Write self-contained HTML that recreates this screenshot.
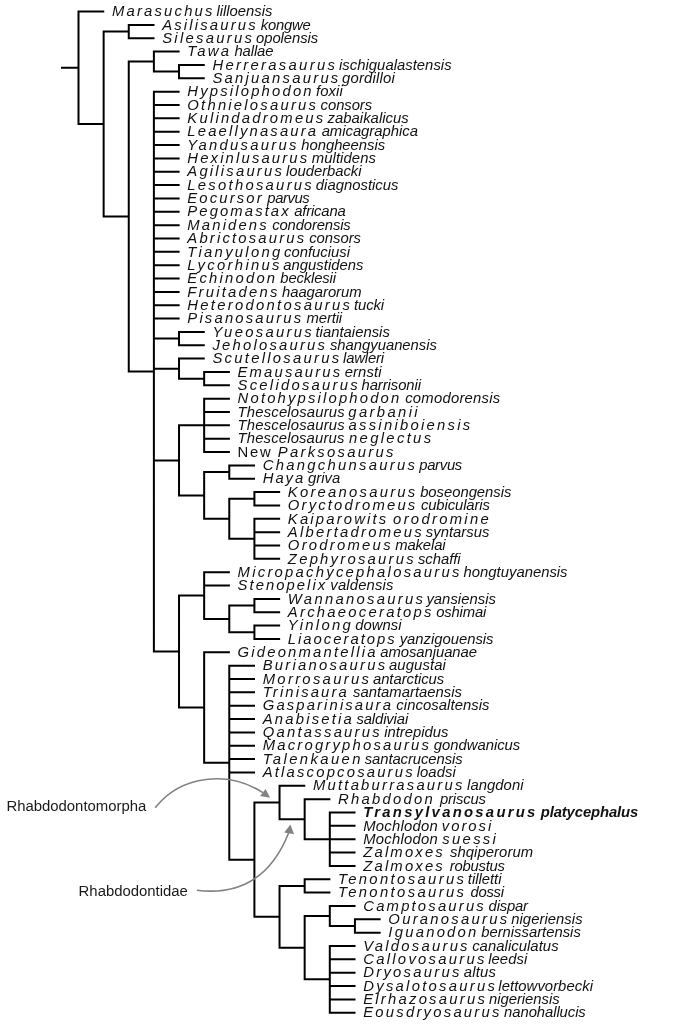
<!DOCTYPE html><html><head><meta charset="utf-8"><style>
html,body{margin:0;padding:0;background:#fff;}
svg{display:block;filter:grayscale(1);}
text{font-family:"Liberation Sans",sans-serif;font-size:14.3px;fill:#111;}
.i{font-style:italic;}
.b{font-weight:bold;}
.lab{font-size:14.9px;fill:#1a1a1a;}
</style></head><body>
<svg width="699" height="1024" viewBox="0 0 699 1024">
<path d="M78.50 11.55H104.23M128.76 24.90H154.49M128.76 38.25H154.49M128.76 23.90V39.25M103.63 31.57H128.76M153.89 51.60H179.62M179.02 64.95H204.75M179.02 78.30H204.75M179.02 63.95V79.30M153.89 71.62H179.02M153.89 50.60V72.62M128.76 61.61H153.89M153.89 91.64H179.62M153.89 104.99H179.62M153.89 118.34H179.62M153.89 131.69H179.62M153.89 145.04H179.62M153.89 158.39H179.62M153.89 171.74H179.62M153.89 185.09H179.62M153.89 198.44H179.62M153.89 211.79H179.62M153.89 225.13H179.62M153.89 238.48H179.62M153.89 251.83H179.62M153.89 265.18H179.62M153.89 278.53H179.62M153.89 291.88H179.62M153.89 305.23H179.62M153.89 318.58H179.62M179.02 331.93H204.75M179.02 345.28H204.75M179.02 330.93V346.28M153.89 338.60H179.02M179.02 358.62H204.75M204.15 371.97H229.88M204.15 385.32H229.88M204.15 370.97V386.32M179.02 378.65H204.15M179.02 357.62V379.65M153.89 368.64H179.02M204.15 398.67H229.88M204.15 412.02H229.88M204.15 425.37H229.88M204.15 438.72H229.88M204.15 452.07H229.88M204.15 397.67V453.07M179.02 425.37H204.15M229.28 465.42H255.01M229.28 478.77H255.01M229.28 464.42V479.77M204.15 472.09H229.28M254.41 492.11H280.14M254.41 505.46H280.14M254.41 491.11V506.46M229.28 498.79H254.41M254.41 518.81H280.14M254.41 532.16H280.14M254.41 545.51H280.14M254.41 558.86H280.14M254.41 517.81V559.86M229.28 538.84H254.41M229.28 497.79V539.84M204.15 518.81H229.28M204.15 471.09V519.81M179.02 495.45H204.15M179.02 424.37V496.45M153.89 460.41H179.02M204.15 572.21H229.88M204.15 585.56H229.88M254.41 598.91H280.14M254.41 612.25H280.14M254.41 597.91V613.25M229.28 605.58H254.41M254.41 625.60H280.14M254.41 638.95H280.14M254.41 624.60V639.95M229.28 632.28H254.41M229.28 604.58V633.28M204.15 618.93H229.28M204.15 571.21V619.93M179.02 595.57H204.15M204.15 652.30H229.88M229.28 665.65H255.01M229.28 679.00H255.01M229.28 692.35H255.01M229.28 705.70H255.01M229.28 719.05H255.01M229.28 732.40H255.01M229.28 745.75H255.01M229.28 759.09H255.01M229.28 772.44H255.01M279.54 785.79H305.27M304.67 799.14H330.40M329.80 812.49H355.53M329.80 825.84H355.53M329.80 839.19H355.53M329.80 852.54H355.53M329.80 865.89H355.53M329.80 811.49V866.89M304.67 839.19H329.80M304.67 798.14V840.19M279.54 819.16H304.67M279.54 784.79V820.16M254.41 802.48H279.54M304.67 879.24H330.40M304.67 892.58H330.40M304.67 878.24V893.58M279.54 885.91H304.67M329.80 905.93H355.53M354.93 919.28H380.66M354.93 932.63H380.66M354.93 918.28V933.63M329.80 925.96H354.93M329.80 904.93V926.96M304.67 915.94H329.80M329.80 945.98H355.53M329.80 959.33H355.53M329.80 972.68H355.53M329.80 986.03H355.53M329.80 999.38H355.53M329.80 1012.73H355.53M329.80 944.98V1013.73M304.67 979.35H329.80M304.67 914.94V980.35M279.54 947.65H304.67M279.54 884.91V948.65M254.41 916.78H279.54M254.41 801.48V917.78M229.28 859.63H254.41M229.28 664.65V860.63M204.15 762.64H229.28M204.15 651.30V763.64M179.02 707.47H204.15M179.02 594.57V708.47M153.89 651.52H179.02M153.89 90.64V652.52M128.76 371.58H153.89M128.76 60.61V372.58M103.63 216.60H128.76M103.63 30.57V217.60M78.50 124.08H103.63M78.50 10.55V125.08M61.00 67.82H78.50" stroke="#000" stroke-width="2.0" fill="none"/>
<text transform="translate(111.93 16.25) scale(1.04 1)"><tspan class="i" letter-spacing="2.09">Marasuchus</tspan><tspan class="i" letter-spacing="-0.02" dx="-2.15"> lilloensis</tspan></text>
<text transform="translate(162.19 29.6) scale(1.04 1)"><tspan class="i" letter-spacing="2.08">Asilisaurus</tspan><tspan class="i" letter-spacing="-0.21" dx="-0.98"> kongwe</tspan></text>
<text transform="translate(162.19 42.95) scale(1.04 1)"><tspan class="i" letter-spacing="2.17">Silesaurus</tspan><tspan class="i" letter-spacing="-0.08" dx="-2.04"> opolensis</tspan></text>
<text transform="translate(187.32 56.3) scale(1.04 1)"><tspan class="i" letter-spacing="2.15">Tawa</tspan><tspan class="i" letter-spacing="-0.12" dx="-0.77"> hallae</tspan></text>
<text transform="translate(212.45 69.65) scale(1.04 1)"><tspan class="i" letter-spacing="2.2">Herrerasaurus</tspan><tspan class="i" letter-spacing="0.01" dx="-2.16"> ischigualastensis</tspan></text>
<text transform="translate(212.45 83) scale(1.04 1)"><tspan class="i" letter-spacing="2.14">Sanjuansaurus</tspan><tspan class="i" letter-spacing="0.18" dx="-2.68"> gordilloi</tspan></text>
<text transform="translate(187.32 96.34) scale(1.04 1)"><tspan class="i" letter-spacing="2.08">Hypsilophodon</tspan><tspan class="i" letter-spacing="0.07" dx="-1.85"> foxii</tspan></text>
<text transform="translate(187.32 109.69) scale(1.04 1)"><tspan class="i" letter-spacing="2.12">Othnielosaurus</tspan><tspan class="i" letter-spacing="-0.08" dx="-1.51"> consors</tspan></text>
<text transform="translate(187.32 123.04) scale(1.04 1)"><tspan class="i" letter-spacing="2.11">Kulindadromeus</tspan><tspan class="i" letter-spacing="0.02" dx="-1.98"> zabaikalicus</tspan></text>
<text transform="translate(187.32 136.39) scale(1.04 1)"><tspan class="i" letter-spacing="2.07">Leaellynasaura</tspan><tspan class="i" letter-spacing="-0.03" dx="-0.7"> amicagraphica</tspan></text>
<text transform="translate(187.32 149.74) scale(1.04 1)"><tspan class="i" letter-spacing="2.17">Yandusaurus</tspan><tspan class="i" letter-spacing="-0.03" dx="-1.46"> hongheensis</tspan></text>
<text transform="translate(187.32 163.09) scale(1.04 1)"><tspan class="i" letter-spacing="2.06">Hexinlusaurus</tspan><tspan class="i" letter-spacing="0.07" dx="-1.74"> multidens</tspan></text>
<text transform="translate(187.32 176.44) scale(1.04 1)"><tspan class="i" letter-spacing="2.1">Agilisaurus</tspan><tspan class="i" letter-spacing="-0.04" dx="-2.06"> louderbacki</tspan></text>
<text transform="translate(187.32 189.79) scale(1.04 1)"><tspan class="i" letter-spacing="2.16">Lesothosaurus</tspan><tspan class="i" letter-spacing="-0" dx="-2.22"> diagnosticus</tspan></text>
<text transform="translate(187.32 203.14) scale(1.04 1)"><tspan class="i" letter-spacing="2.04">Eocursor</tspan><tspan class="i" letter-spacing="-0.42" dx="-0.08"> parvus</tspan></text>
<text transform="translate(187.32 216.49) scale(1.04 1)"><tspan class="i" letter-spacing="2">Pegomastax</tspan><tspan class="i" letter-spacing="-0.17" dx="-0.52"> africana</tspan></text>
<text transform="translate(187.32 229.83) scale(1.04 1)"><tspan class="i" letter-spacing="2.05">Manidens</tspan><tspan class="i" letter-spacing="-0.15" dx="-0.58"> condorensis</tspan></text>
<text transform="translate(187.32 243.18) scale(1.04 1)"><tspan class="i" letter-spacing="2.08">Abrictosaurus</tspan><tspan class="i" letter-spacing="-0.05" dx="-1.09"> consors</tspan></text>
<text transform="translate(187.32 256.53) scale(1.04 1)"><tspan class="i" letter-spacing="2.17">Tianyulong</tspan><tspan class="i" letter-spacing="0" dx="-2.52"> confuciusi</tspan></text>
<text transform="translate(187.32 269.88) scale(1.04 1)"><tspan class="i" letter-spacing="2.2">Lycorhinus</tspan><tspan class="i" letter-spacing="0.01" dx="-2.56"> angustidens</tspan></text>
<text transform="translate(187.32 283.23) scale(1.04 1)"><tspan class="i" letter-spacing="2.11">Echinodon</tspan><tspan class="i" letter-spacing="-0.16" dx="-0.93"> becklesii</tspan></text>
<text transform="translate(187.32 296.58) scale(1.04 1)"><tspan class="i" letter-spacing="2.13">Fruitadens</tspan><tspan class="i" letter-spacing="-0.07" dx="-1.63"> haagarorum</tspan></text>
<text transform="translate(187.32 309.93) scale(1.04 1)"><tspan class="i" letter-spacing="2.17">Heterodontosaurus</tspan><tspan class="i" letter-spacing="-0.1" dx="-2.04"> tucki</tspan></text>
<text transform="translate(187.32 323.28) scale(1.04 1)"><tspan class="i" letter-spacing="2.08">Pisanosaurus</tspan><tspan class="i" letter-spacing="-0.14" dx="-0.69"> mertii</tspan></text>
<text transform="translate(212.45 336.63) scale(1.04 1)"><tspan class="i" letter-spacing="2.19">Yueosaurus</tspan><tspan class="i" letter-spacing="0" dx="-2.54"> tiantaiensis</tspan></text>
<text transform="translate(212.45 349.98) scale(1.04 1)"><tspan class="i" letter-spacing="2.11">Jeholosaurus</tspan><tspan class="i" letter-spacing="-0.03" dx="-1.3"> shangyuanensis</tspan></text>
<text transform="translate(212.45 363.32) scale(1.04 1)"><tspan class="i" letter-spacing="2.16">Scutellosaurus</tspan><tspan class="i" letter-spacing="-0.18" dx="-2.13"> lawleri</tspan></text>
<text transform="translate(237.58 376.67) scale(1.04 1)"><tspan class="i" letter-spacing="2.04">Emausaurus</tspan><tspan class="i" letter-spacing="0.08" dx="-1.63"> ernsti</tspan></text>
<text transform="translate(237.58 390.02) scale(1.04 1)"><tspan class="i" letter-spacing="2.14">Scelidosaurus</tspan><tspan class="i" letter-spacing="-0.08" dx="-2.3"> harrisonii</tspan></text>
<text transform="translate(237.58 403.37) scale(1.04 1)"><tspan class="i" letter-spacing="2.07">Notohypsilophodon</tspan><tspan class="i" letter-spacing="0.22" dx="-0.59"> comodorensis</tspan></text>
<text transform="translate(237.58 416.72) scale(1.04 1)"><tspan class="i" letter-spacing="0.16">Thescelosaurus</tspan><tspan class="i" letter-spacing="2.25" dx="-2.85"> garbanii</tspan></text>
<text transform="translate(237.58 430.07) scale(1.04 1)"><tspan class="i" letter-spacing="0.16">Thescelosaurus</tspan><tspan class="i" letter-spacing="2.17" dx="-2.66"> assiniboiensis</tspan></text>
<text transform="translate(237.58 443.42) scale(1.04 1)"><tspan class="i" letter-spacing="0.14">Thescelosaurus</tspan><tspan class="i" letter-spacing="2.22" dx="-1.87"> neglectus</tspan></text>
<text transform="translate(237.58 456.77) scale(1.04 1)"><tspan class="" letter-spacing="1.67">New</tspan><tspan class="i" letter-spacing="2.18" dx="-1.15"> Parksosaurus</tspan></text>
<text transform="translate(262.71 470.12) scale(1.04 1)"><tspan class="i" letter-spacing="2.17">Changchunsaurus</tspan><tspan class="i" letter-spacing="-0.29" dx="-1.75"> parvus</tspan></text>
<text transform="translate(262.71 483.47) scale(1.04 1)"><tspan class="i" letter-spacing="1.86">Haya</tspan><tspan class="i" letter-spacing="0.02" dx="-1.36"> griva</tspan></text>
<text transform="translate(287.84 496.81) scale(1.04 1)"><tspan class="i" letter-spacing="2.13">Koreanosaurus</tspan><tspan class="i" letter-spacing="-0.04" dx="-1.32"> boseongensis</tspan></text>
<text transform="translate(287.84 510.16) scale(1.04 1)"><tspan class="i" letter-spacing="2.07">Oryctodromeus</tspan><tspan class="i" letter-spacing="-0.11" dx="-0.5"> cubicularis</tspan></text>
<text transform="translate(287.84 523.51) scale(1.04 1)"><tspan class="i" letter-spacing="2.08">Kaiparowits</tspan><tspan class="i" letter-spacing="2.18" dx="-1.66"> orodromine</tspan></text>
<text transform="translate(287.84 536.86) scale(1.04 1)"><tspan class="i" letter-spacing="2.14">Albertadromeus</tspan><tspan class="i" letter-spacing="0" dx="-2.19"> syntarsus</tspan></text>
<text transform="translate(287.84 550.21) scale(1.04 1)"><tspan class="i" letter-spacing="2.15">Orodromeus</tspan><tspan class="i" letter-spacing="-0.13" dx="-1.54"> makelai</tspan></text>
<text transform="translate(287.84 563.56) scale(1.04 1)"><tspan class="i" letter-spacing="2.14">Zephyrosaurus</tspan><tspan class="i" letter-spacing="-0.03" dx="-2.01"> schaffi</tspan></text>
<text transform="translate(237.58 576.91) scale(1.04 1)"><tspan class="i" letter-spacing="2.15">Micropachycephalosaurus</tspan><tspan class="i" letter-spacing="-0.01" dx="-2.12"> hongtuyanensis</tspan></text>
<text transform="translate(237.58 590.26) scale(1.04 1)"><tspan class="i" letter-spacing="1.94">Stenopelix</tspan><tspan class="i" letter-spacing="0.13" dx="-1.04"> valdensis</tspan></text>
<text transform="translate(287.84 603.61) scale(1.04 1)"><tspan class="i" letter-spacing="2.18">Wannanosaurus</tspan><tspan class="i" letter-spacing="0.02" dx="-2.92"> yansiensis</tspan></text>
<text transform="translate(287.84 616.96) scale(1.04 1)"><tspan class="i" letter-spacing="2.15">Archaeoceratops</tspan><tspan class="i" letter-spacing="-0.17" dx="-1.45"> oshimai</tspan></text>
<text transform="translate(287.84 630.3) scale(1.04 1)"><tspan class="i" letter-spacing="2.17">Yinlong</tspan><tspan class="i" letter-spacing="0.02" dx="-1.84"> downsi</tspan></text>
<text transform="translate(287.84 643.65) scale(1.04 1)"><tspan class="i" letter-spacing="1.9">Liaoceratops</tspan><tspan class="i" letter-spacing="-0.03" dx="-1"> yanzigouensis</tspan></text>
<text transform="translate(237.58 657) scale(1.04 1)"><tspan class="i" letter-spacing="2.09">Gideonmantellia</tspan><tspan class="i" letter-spacing="-0.06" dx="-1.39"> amosanjuanae</tspan></text>
<text transform="translate(262.71 670.35) scale(1.04 1)"><tspan class="i" letter-spacing="2.13">Burianosaurus</tspan><tspan class="i" letter-spacing="0.1" dx="-2.47"> augustai</tspan></text>
<text transform="translate(262.71 683.7) scale(1.04 1)"><tspan class="i" letter-spacing="2.19">Morrosaurus</tspan><tspan class="i" letter-spacing="-0.05" dx="-2.25"> antarcticus</tspan></text>
<text transform="translate(262.71 697.05) scale(1.04 1)"><tspan class="i" letter-spacing="2.05">Trinisaura</tspan><tspan class="i" letter-spacing="-0.01" dx="-0.1"> santamartaensis</tspan></text>
<text transform="translate(262.71 710.4) scale(1.04 1)"><tspan class="i" letter-spacing="2.03">Gasparinisaura</tspan><tspan class="i" letter-spacing="0.05" dx="-0.84"> cincosaltensis</tspan></text>
<text transform="translate(262.71 723.75) scale(1.04 1)"><tspan class="i" letter-spacing="2.1">Anabisetia</tspan><tspan class="i" letter-spacing="-0.13" dx="-1.48"> saldiviai</tspan></text>
<text transform="translate(262.71 737.1) scale(1.04 1)"><tspan class="i" letter-spacing="2.14">Qantassaurus</tspan><tspan class="i" letter-spacing="-0.03" dx="-1.81"> intrepidus</tspan></text>
<text transform="translate(262.71 750.45) scale(1.04 1)"><tspan class="i" letter-spacing="2.1">Macrogryphosaurus</tspan><tspan class="i" letter-spacing="-0.02" dx="-1.49"> gondwanicus</tspan></text>
<text transform="translate(262.71 763.79) scale(1.04 1)"><tspan class="i" letter-spacing="2.3">Talenkauen</tspan><tspan class="i" letter-spacing="-0.09" dx="-2.17"> santacrucensis</tspan></text>
<text transform="translate(262.71 777.14) scale(1.04 1)"><tspan class="i" letter-spacing="2.09">Atlascopcosaurus</tspan><tspan class="i" letter-spacing="0.04" dx="-2.15"> loadsi</tspan></text>
<text transform="translate(312.97 790.49) scale(1.04 1)"><tspan class="i" letter-spacing="2.11">Muttaburrasaurus</tspan><tspan class="i" letter-spacing="0.03" dx="-1.59"> langdoni</tspan></text>
<text transform="translate(338.1 803.84) scale(1.04 1)"><tspan class="i" letter-spacing="2.14">Rhabdodon</tspan><tspan class="i" letter-spacing="-0.18" dx="0.97"> priscus</tspan></text>
<text transform="translate(363.23 817.19) scale(1.04 1)"><tspan class="i b" letter-spacing="2.17">Transylvanosaurus</tspan><tspan class="i b" letter-spacing="-0.12" dx="-0.89"> platycephalus</tspan></text>
<text transform="translate(363.23 830.54) scale(1.04 1)"><tspan class="i" letter-spacing="0.23">Mochlodon</tspan><tspan class="i" letter-spacing="1.88" dx="-2.24"> vorosi</tspan></text>
<text transform="translate(363.23 843.89) scale(1.04 1)"><tspan class="i" letter-spacing="0.23">Mochlodon</tspan><tspan class="i" letter-spacing="2.19" dx="-2.05"> suessi</tspan></text>
<text transform="translate(363.23 857.24) scale(1.04 1)"><tspan class="i" letter-spacing="2.08">Zalmoxes</tspan><tspan class="i" letter-spacing="0.05" dx="0.84"> shqiperorum</tspan></text>
<text transform="translate(363.23 870.59) scale(1.04 1)"><tspan class="i" letter-spacing="2.08">Zalmoxes</tspan><tspan class="i" letter-spacing="-0.24" dx="0.93"> robustus</tspan></text>
<text transform="translate(338.1 883.94) scale(1.04 1)"><tspan class="i" letter-spacing="2.25">Tenontosaurus</tspan><tspan class="i" letter-spacing="-0.03" dx="-2.51"> tilletti</tspan></text>
<text transform="translate(338.1 897.28) scale(1.04 1)"><tspan class="i" letter-spacing="2.25">Tenontosaurus</tspan><tspan class="i" letter-spacing="-0.27" dx="0.28"> dossi</tspan></text>
<text transform="translate(363.23 910.63) scale(1.04 1)"><tspan class="i" letter-spacing="2.09">Camptosaurus</tspan><tspan class="i" letter-spacing="-0.23" dx="-1.19"> dispar</tspan></text>
<text transform="translate(388.36 923.98) scale(1.04 1)"><tspan class="i" letter-spacing="2.15">Ouranosaurus</tspan><tspan class="i" letter-spacing="0.03" dx="-2.21"> nigeriensis</tspan></text>
<text transform="translate(388.36 937.33) scale(1.04 1)"><tspan class="i" letter-spacing="2.13">Iguanodon</tspan><tspan class="i" letter-spacing="-0.02" dx="-1.42"> bernissartensis</tspan></text>
<text transform="translate(363.23 950.68) scale(1.04 1)"><tspan class="i" letter-spacing="2.14">Valdosaurus</tspan><tspan class="i" letter-spacing="0.04" dx="-1.72"> canaliculatus</tspan></text>
<text transform="translate(363.23 964.03) scale(1.04 1)"><tspan class="i" letter-spacing="2.17">Callovosaurus</tspan><tspan class="i" letter-spacing="0.08" dx="-2.71"> leedsi</tspan></text>
<text transform="translate(363.23 977.38) scale(1.04 1)"><tspan class="i" letter-spacing="2.15">Dryosaurus</tspan><tspan class="i" letter-spacing="0.17" dx="-2.02"> altus</tspan></text>
<text transform="translate(363.23 990.73) scale(1.04 1)"><tspan class="i" letter-spacing="2.17">Dysalotosaurus</tspan><tspan class="i" letter-spacing="0.03" dx="-2.91"> lettowvorbecki</tspan></text>
<text transform="translate(363.23 1004.08) scale(1.04 1)"><tspan class="i" letter-spacing="2.13">Elrhazosaurus</tspan><tspan class="i" letter-spacing="-0.03" dx="-2.09"> nigeriensis</tspan></text>
<text transform="translate(363.23 1017.43) scale(1.04 1)"><tspan class="i" letter-spacing="2.13">Eousdryosaurus</tspan><tspan class="i" letter-spacing="-0.08" dx="-1.53"> nanohallucis</tspan></text>
<path d="M155.2 807.7C181.2 774.8 228.8 770.4 262.8 792.6" stroke="#828282" stroke-width="1.6" fill="none"/>
<path d="M270.1 797.8 L265.6 789 L260.1 796 Z" fill="#828282"/>
<path d="M196.9 890.3C242.1 895.7 272.3 874.5 288.8 832.5" stroke="#828282" stroke-width="1.6" fill="none"/>
<path d="M290.4 824.6 L284.3 832.5 L294 834.3 Z" fill="#828282"/>
<text class="lab" x="6.4" y="811.2">Rhabdodontomorpha</text>
<text class="lab" x="78.6" y="895.6">Rhabdodontidae</text>
</svg></body></html>
